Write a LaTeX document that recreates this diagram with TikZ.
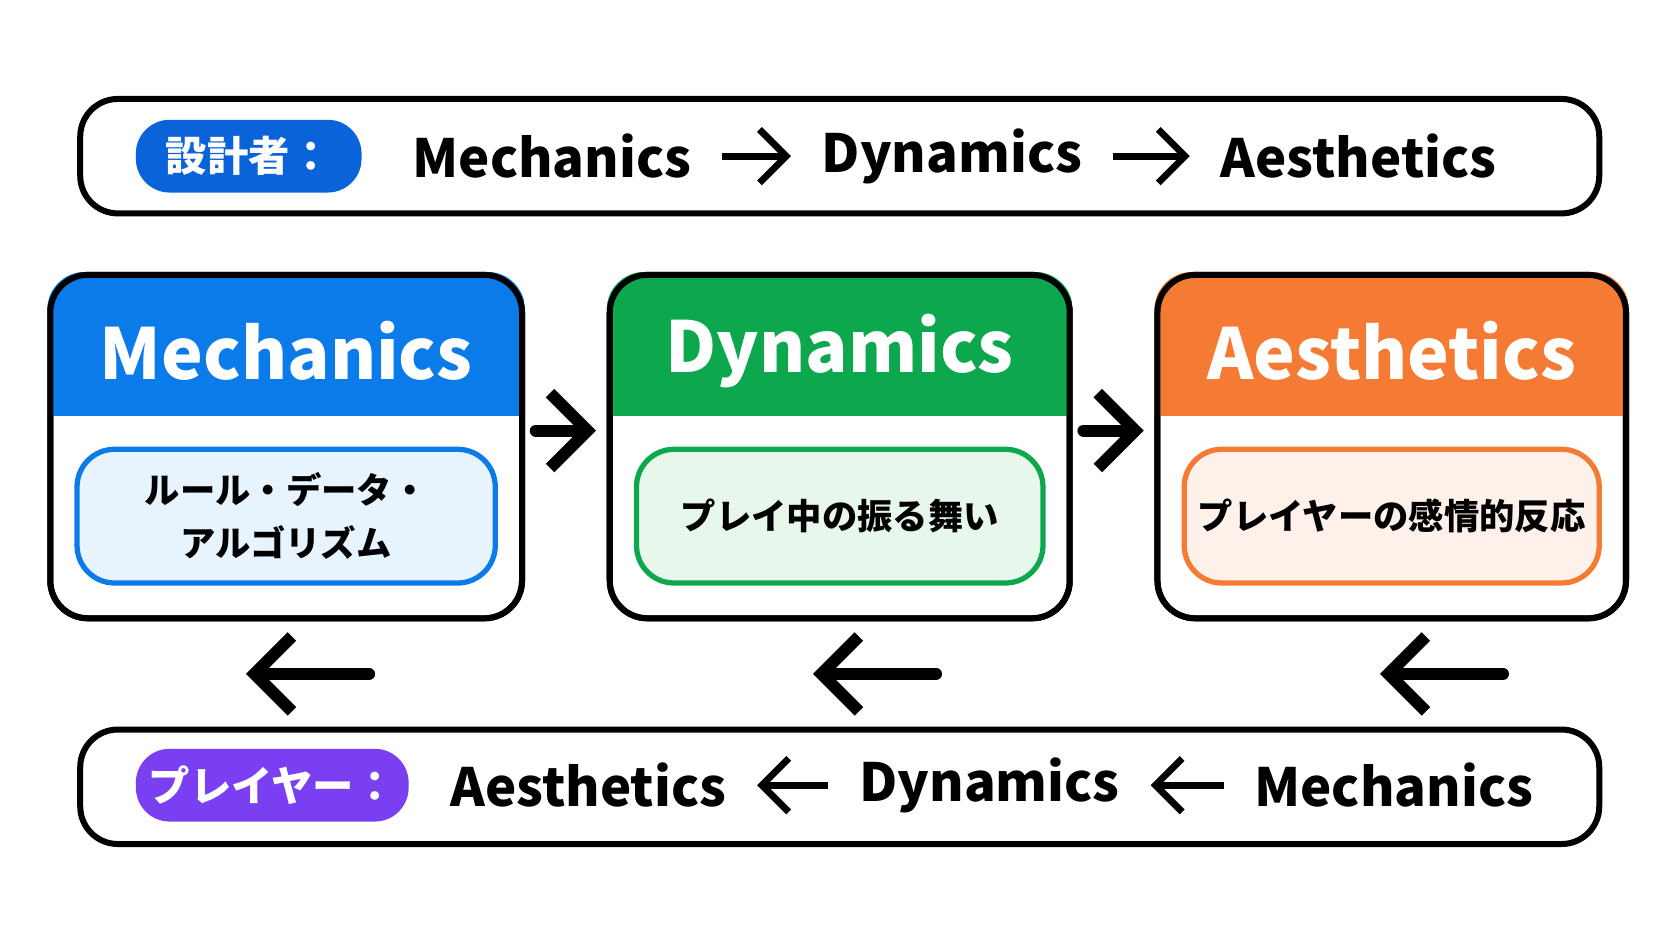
\documentclass[tikz,border=0pt]{standalone}
\usepackage{fontspec}
\setmainfont{Noto Sans CJK JP}
\usetikzlibrary{positioning,calc,arrows.meta}
\definecolor{mblue}{HTML}{0A7BE8}
\definecolor{pblue}{HTML}{0B63D9}
\definecolor{dgreen}{HTML}{0DA84E}
\definecolor{aorange}{HTML}{F57A33}
\definecolor{ppurple}{HTML}{7B3FF2}
\definecolor{lblue}{HTML}{E8F4FD}
\definecolor{lgreen}{HTML}{E8F7EC}
\definecolor{lorange}{HTML}{FDF1EA}
\tikzset{
  bar/.style={draw, line width=1.6pt, rounded corners=10pt, minimum width=14.2cm, minimum height=1.07cm},
  pill/.style={fill=#1, text=white, rounded corners=9pt, minimum height=0.68cm, font=\bfseries\fontsize{11}{13}\selectfont},
  flow/.style={font=\bfseries\fontsize{14}{17}\selectfont, inner sep=8pt},
  box/.style={draw, line width=1.6pt, rounded corners=10pt, minimum height=3.21cm},
  inner/.style={draw=#1, line width=1.4pt, rounded corners=10pt, minimum height=1.25cm, align=center, font=\bfseries\fontsize{9.4}{14}\selectfont},
  head/.style={text=white, font=\bfseries\fontsize{18.7}{22}\selectfont},
  thin/.style={-{Straight Barb[length=2.5mm,width=5mm]}, line width=1.8pt},
  thick/.style={-{Straight Barb[length=3.5mm,width=7mm]}, line width=3.2pt, line cap=round}
}
\begin{document}
\begin{tikzpicture}
\useasboundingbox (0,0) rectangle (15.63,8.80);
% designer row
\node[bar] (top) at (7.85,7.34) {};
\node[pill=pblue, minimum width=2.11cm] (ptop) at (2.325,7.34) {設計者：};
\node[flow] (t1) at (5.16,7.34) {Mechanics};
\node[flow] (t2) at (8.9,7.34) {Dynamics};
\node[flow] (t3) at (12.7,7.34) {Aesthetics};
\draw[thin] (t1) -- (t2);
\draw[thin] (t2) -- (t3);
% three boxes
\foreach \nm/\x/\w/\col/\lt/\ttl/\txt in {mech/2.675/4.41/mblue/lblue/Mechanics/{ルール・データ・\\アルゴリズム},
    dyn/7.85/4.3/dgreen/lgreen/Dynamics/{プレイ中の振る舞い},
    aes/13.01/4.38/aorange/lorange/Aesthetics/{プレイヤーの感情的反応}}{
  \node[box, minimum width=\w cm] (\nm) at (\x,4.625) {};
  \begin{scope}
    \clip[rounded corners=10pt] (\nm.south west) rectangle (\nm.north east);
    \fill[\col] (\nm.north west) rectangle ($(\nm.north east)+(0,-1.35)$);
  \end{scope}
  \node[box, minimum width=\w cm] at (\x,4.625) {};
  \node[head] (\nm-h) at (\x,5.52) {\ttl};
  \node[inner=\col, fill=\lt, minimum width={\w cm-0.5cm}] (\nm-in) at (\x,3.975) {\txt};
}
\draw[thick] (mech.east) ++(0.1,0.15) coordinate (m1) -- ($(dyn.west)+(-0.1,0.15)$) coordinate (d1);
\draw[thick] (dyn.east) ++(0.1,0.15) coordinate (d2) -- ($(aes.west)+(-0.1,0.15)$) coordinate (a1);
% back arrows
\foreach \i/\x in {1/2.9,2/8.2,3/13.5}{
  \coordinate (bs\i) at (\x+0.55,2.50);
  \coordinate (be\i) at (\x-0.6,2.50);
  \draw[thick] (bs\i) -- (be\i);
}
% player row
\node[bar] (bot) at (7.85,1.445) {};
\node[pill=ppurple, minimum width=2.55cm] (pbot) at (2.545,1.46) {プレイヤー：};
\node[flow] (b1) at (5.5,1.46) {Aesthetics};
\node[flow] (b2) at (9.25,1.46) {Dynamics};
\node[flow] (b3) at (13.03,1.46) {Mechanics};
\draw[thin] (b3) -- (b2);
\draw[thin] (b2) -- (b1);
\end{tikzpicture}
\end{document}
